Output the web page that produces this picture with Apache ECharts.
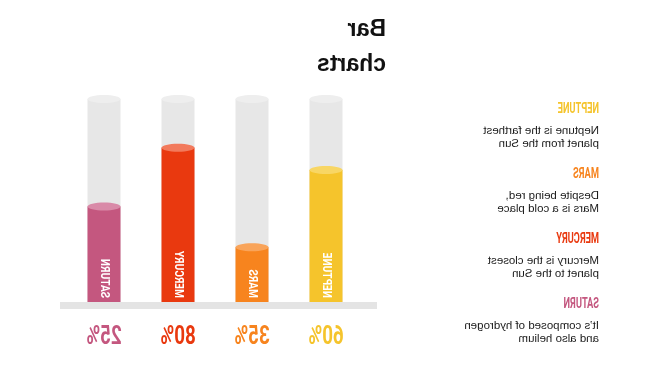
<!DOCTYPE html>
<html>
<head>
<meta charset="utf-8">
<script src="https://cdn.jsdelivr.net/npm/echarts@6/dist/echarts.min.js"></script>
<style>
html,body{margin:0;padding:0;background:#fff;}
#c{width:666px;height:374px;transform:scaleX(-1);}
</style>
</head>
<body>
<div id="c"></div>
<script>
// Data (left-to-right before mirroring)
var planets = ['NEPTUNE', 'MARS', 'MERCURY', 'SATURN'];
var fillLevels = [65, 27, 76, 47];
var percentLabels = ['60%', '35%', '80%', '25%'];
var colors = ['#f5c42c', '#f7841e', '#e9390f', '#c4577f'];
var topColors = ['#f8d664', '#f9a45a', '#f27a5c', '#d98aa8'];
var descriptions = [
  'Neptune is the farthest\nplanet from the Sun',
  'Despite being red,\nMars is a cold place',
  'Mercury is the closest\nplanet to the Sun',
  'It\u2019s composed of hydrogen\nand also helium'
];

var condensed = '"Roboto","Liberation Sans",sans-serif';
var chart = echarts.init(document.getElementById('c'));

var graphics = [
  {type: 'rect', shape: {x: 289, y: 302, width: 317, height: 7}, style: {fill: '#e4e4e4'}, z: 10}
];
planets.forEach(function (p, i) {
  var top = 102 + i * 65;
  graphics.push({
    type: 'text', x: 67, y: top, scaleX: 0.66,
    style: {text: p, fill: colors[i], font: 'bold 14px ' + condensed, align: 'left', verticalAlign: 'top'}
  });
  graphics.push({
    type: 'text', x: 67, y: top + 22,
    style: {text: descriptions[i], fill: '#1a1a1a', font: '11.5px "Liberation Sans",Arial,sans-serif', lineHeight: 13, align: 'left', verticalAlign: 'top'}
  });
});

var seriesData = fillLevels.map(function (v, i) { return [i, v]; });

chart.setOption({
  animation: false,
  title: {
    text: 'Bar\ncharts', left: 280, top: 12, padding: 0,
    textStyle: {fontSize: 23, fontWeight: 'bold', color: '#111', lineHeight: 35, fontFamily: '"Liberation Sans",Arial,sans-serif'}
  },
  grid: {left: 303, right: 67, top: 99, bottom: 72},
  xAxis: {type: 'category', data: planets, axisLine: {show: false}, axisTick: {show: false}, axisLabel: {show: false}},
  yAxis: {type: 'value', min: 0, max: 100, show: false, splitLine: {show: false}},
  graphic: graphics,
  series: [{
    type: 'custom',
    data: seriesData,
    z: 5,
    renderItem: function (params, api) {
      var idx = api.value(0), v = api.value(1);
      var p0 = api.coord([idx, 0]);
      var p100 = api.coord([idx, 100]);
      var pv = api.coord([idx, v]);
      var w = 33, ry = 4;
      var x0 = p0[0] - w / 2;
      return {
        type: 'group',
        children: [
          {type: 'rect', shape: {x: x0, y: p100[1], width: w, height: p0[1] - p100[1]}, style: {fill: '#e7e7e7'}},
          {type: 'ellipse', shape: {cx: p0[0], cy: p100[1], rx: w / 2, ry: ry}, style: {fill: '#eeeeee'}},
          {type: 'rect', shape: {x: x0, y: pv[1], width: w, height: p0[1] - pv[1]}, style: {fill: colors[idx]}},
          {type: 'ellipse', shape: {cx: p0[0], cy: pv[1], rx: w / 2, ry: ry}, style: {fill: topColors[idx]}},
          {type: 'text', x: p0[0], y: p0[1] - 4, rotation: Math.PI / 2, scaleX: 0.78,
            style: {text: planets[idx], fill: '#fff', font: 'bold 13px ' + condensed, align: 'left', verticalAlign: 'middle'}},
          {type: 'text', x: p0[0], y: p0[1] + 35, scaleX: 0.72,
            style: {text: percentLabels[idx], fill: colors[idx], font: 'bold 26px ' + condensed, align: 'center', verticalAlign: 'middle'}}
        ]
      };
    }
  }]
});
</script>
</body>
</html>
